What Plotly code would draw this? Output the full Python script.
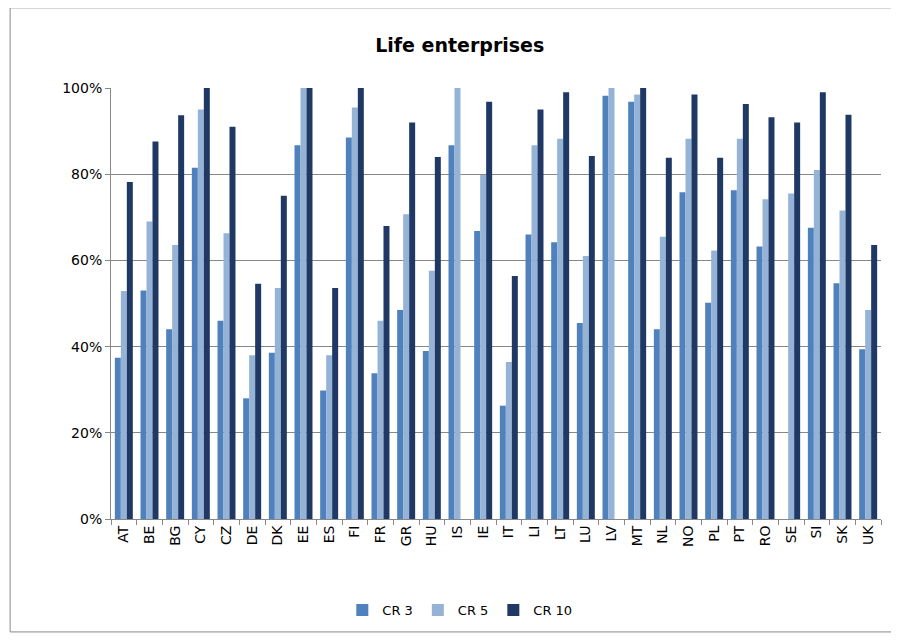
import plotly.graph_objects as go

countries = ["AT","BE","BG","CY","CZ","DE","DK","EE","ES","FI","FR","GR","HU","IS","IE","IT","LI","LT","LU","LV","MT","NL","NO","PL","PT","RO","SE","SI","SK","UK"]
cr3 = [37.4,53,44,81.5,46,28,38.6,86.7,29.8,88.5,33.8,48.5,39,86.7,66.8,26.3,66,64.2,45.5,98.2,96.8,44,75.8,50.2,76.3,63.2,None,67.6,54.7,39.4]
cr5 = [52.9,69,63.6,95,66.3,38,53.6,100,38,95.5,46,70.7,57.6,100,79.8,36.4,86.7,88.2,61,100,98.5,65.5,88.2,62.3,88.2,74.2,75.5,81,71.6,48.5]
cr10 = [78.2,87.6,93.7,100,91,54.6,75,100,53.6,100,68,92,84,None,96.8,56.4,95,99,84.2,None,100,83.8,98.5,83.8,96.3,93.2,92,99,93.8,63.6]

def pct(v):
    return [None if x is None else x/100 for x in v]

fig = go.Figure()
for name, vals, col in [("CR 3", cr3, "#4F81BD"), ("CR 5", cr5, "#95B3D7"), ("CR 10", cr10, "#1F3864")]:
    fig.add_bar(x=countries, y=pct(vals), name=name, marker_color=col, marker_line_width=0)

fig.update_layout(
    width=891, height=632,
    paper_bgcolor="white", plot_bgcolor="white",
    font=dict(family="DejaVu Sans", size=14, color="black"),
    title=dict(text="<b>Life enterprises</b>", x=0.507, xanchor="center", y=0.941, yanchor="middle", font=dict(size=19)),
    margin=dict(l=103, r=18, t=80, b=121, pad=0),
    barmode="group", bargap=0.3, bargroupgap=0,
    legend=dict(orientation="h", x=0.453, xanchor="center", y=-0.211, yanchor="middle", font=dict(size=13), itemwidth=30),
    xaxis=dict(tickangle=-90, automargin=False, showline=True, linecolor="#888", ticks="outside", tickson="boundaries", ticklen=5, tickcolor="#888"),
    yaxis=dict(range=[0,1], automargin=False, tickformat=".0%", dtick=0.2, showgrid=True, gridcolor="#888", showline=True, linecolor="#888", ticks="outside", ticklen=5, tickcolor="#888"),
    shapes=[dict(type="rect", xref="paper", yref="paper", x0=-0.131, x1=1.016, y0=-0.262, y1=1.186, line=dict(color="#888", width=1))]
)
fig.write_html("out.html")
